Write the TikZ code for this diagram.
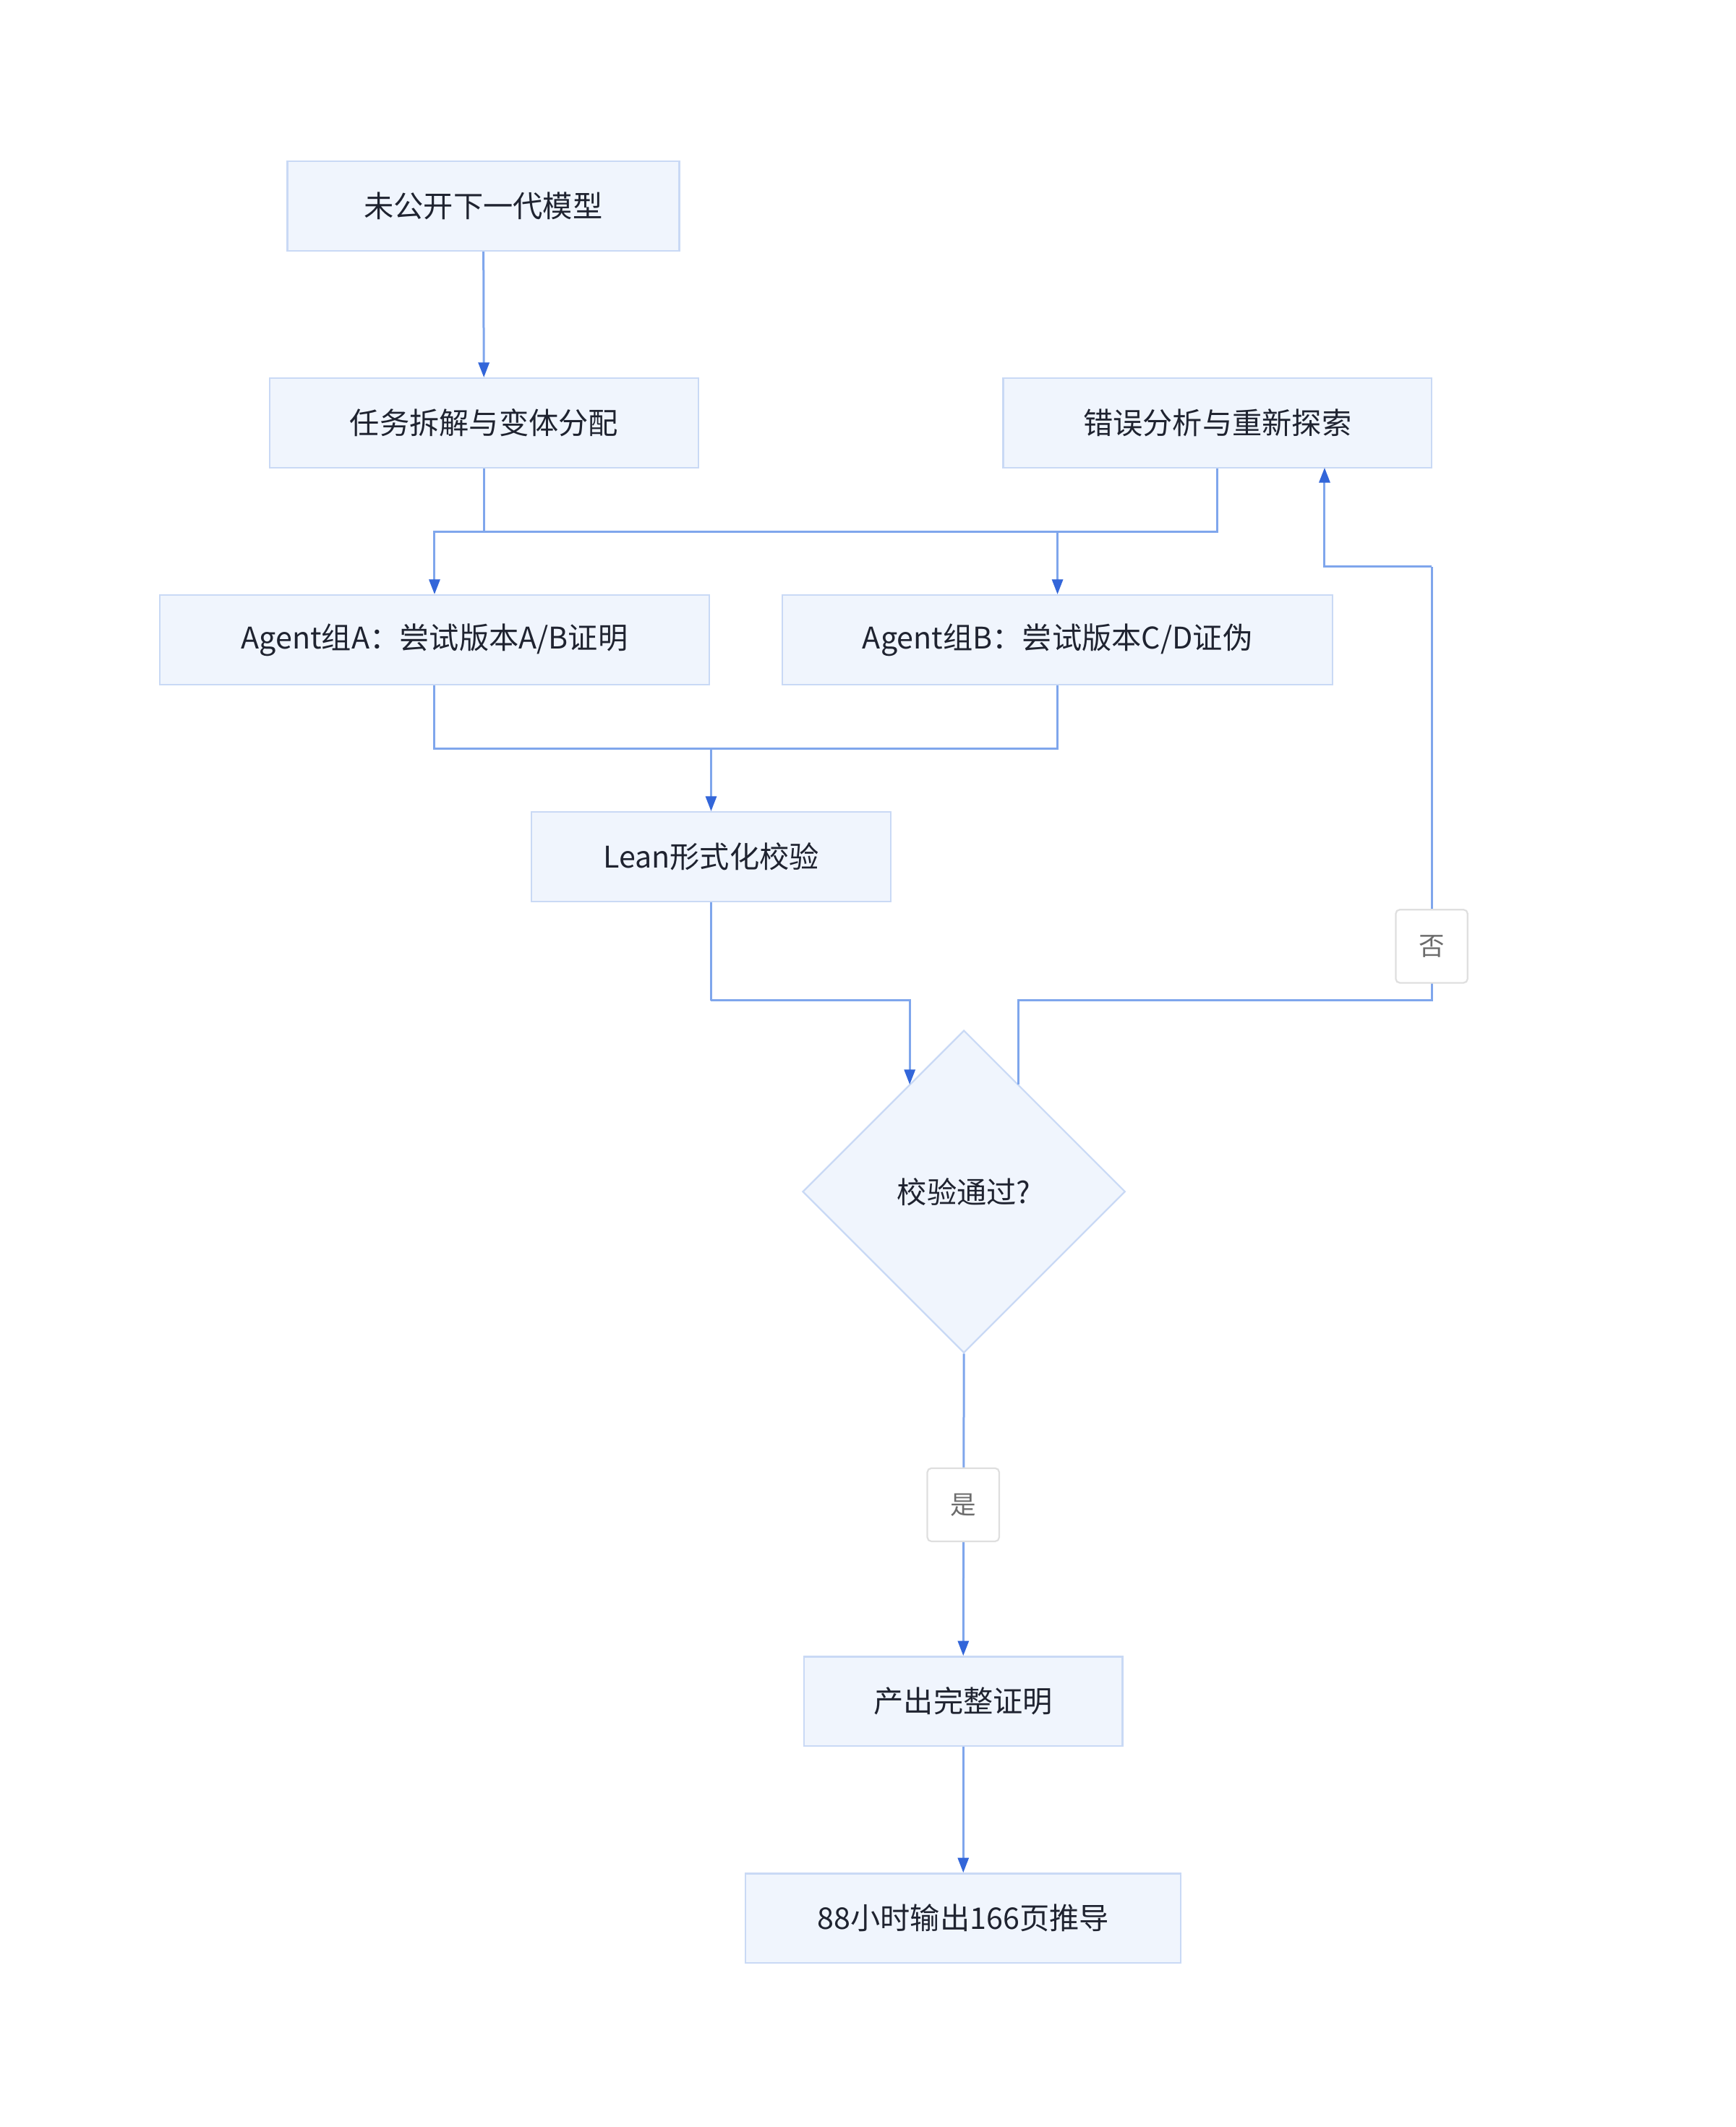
\documentclass[tikz,border=0pt]{standalone}
\usepackage{fontspec}
\setmainfont{Noto Sans CJK SC}
\usetikzlibrary{arrows.meta,shapes.geometric}
\definecolor{boxfill}{HTML}{F0F5FD}
\definecolor{boxline}{HTML}{C9D9F5}
\definecolor{linec}{HTML}{7FA6EC}
\definecolor{tipc}{HTML}{3366D9}
\definecolor{textc}{HTML}{1F2330}
\tikzset{
  box/.style={draw=boxline,fill=boxfill,line width=1.2pt,inner sep=0pt,text=textc,font=\fontsize{22}{26}\selectfont},
  lab/.style={draw=gray!25,fill=white,rounded corners=3pt,line width=1.2pt,minimum width=53pt,minimum height=54pt,inner sep=0pt,text=gray!85!black,font=\fontsize{19}{22}\selectfont},
  link/.style={draw=linec,line width=1.6pt},
  arr/.style={link,-{Triangle[length=11pt,width=8pt,color=tipc]}}
}
\begin{document}
\begin{tikzpicture}[x=1pt,y=-1pt]
  \useasboundingbox (0,0) rectangle (1280,1569);
  % nodes
  \node[box,minimum width=289pt,minimum height=66pt] (model) at (356.5,152) {未公开下一代模型};
  \node[box,minimum width=316pt,minimum height=66pt] (split) at (357,312) {任务拆解与变体分配};
  \node[box,minimum width=316pt,minimum height=66pt] (error) at (898,312) {错误分析与重新探索};
  \node[box,minimum width=405pt,minimum height=66pt] (grpa) at (320.5,472) {Agent组A：尝试版本A/B证明};
  \node[box,minimum width=406pt,minimum height=66pt] (grpb) at (780,472) {Agent组B：尝试版本C/D证伪};
  \node[box,minimum width=265pt,minimum height=66pt] (lean) at (524.5,632) {Lean形式化校验};
  \node[box,shape=diamond,minimum width=238pt,minimum height=238pt] (check) at (711,879) {校验通过?};
  \node[box,minimum width=235pt,minimum height=66pt] (proof) at (710.5,1255) {产出完整证明};
  \node[box,minimum width=321pt,minimum height=66pt] (pages) at (710.5,1415) {88小时输出166页推导};
  % junctions
  \coordinate (top) at (357,392);
  \coordinate (mid) at (524.5,552);
  \coordinate (low) at (524.5,738);
  \coordinate (cin) at (671,800);
  \coordinate (cout) at (751,800);
  \coordinate (back) at (1056,418);
  % connectors
  \draw[arr] (model) -- (split);
  \draw[link] (split.south) -- (top);
  \draw[arr] (top) -| (grpa.north);
  \draw[arr] (top) -| (grpb.north);
  \draw[link] (error.south) |- (top);
  \draw[link] (grpa.south) |- (mid);
  \draw[link] (grpb.south) |- (mid);
  \draw[arr] (mid) -- (lean.north);
  \draw[link] (lean.south) -- (low);
  \draw[arr] (low) -| (cin);
  \draw[link] (cout) |- (1056,738) -- (back);
  \draw[arr] (back) -| (977,345);
  \node[lab] (no) at (1056,698) {否};
  \draw[arr] (check.south) -- (proof.north);
  \node[lab] (yes) at (710.5,1110) {是};
  \draw[arr] (proof) -- (pages);
\end{tikzpicture}
\end{document}
